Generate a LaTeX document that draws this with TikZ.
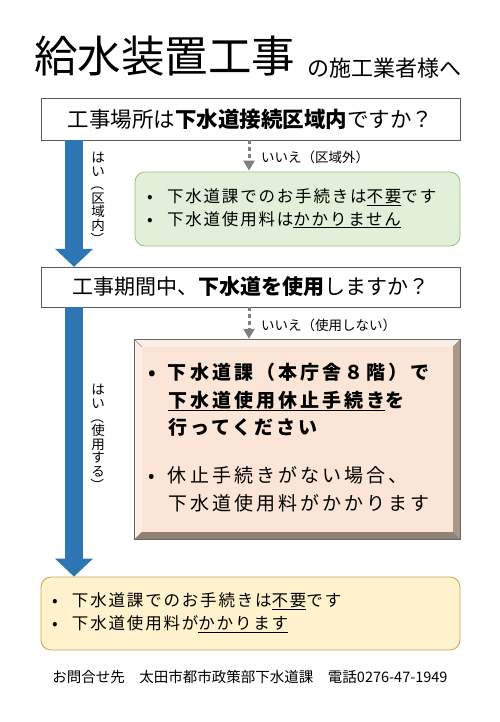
\documentclass[tikz,border=0pt]{standalone}
\usepackage{fontspec}
\setmainfont{Noto Sans CJK JP}
\usepackage{graphicx}
\usetikzlibrary{arrows.meta,positioning}
\definecolor{yesblue}{HTML}{2E75B6}
\definecolor{nogray}{HTML}{7F7F7F}
\definecolor{greenfill}{HTML}{E2F0D9}
\definecolor{greenline}{HTML}{9CBB83}
\definecolor{peachfill}{HTML}{FBE5D6}
\definecolor{bevellight}{HTML}{FCEEE5}
\definecolor{beveldark}{HTML}{A8988C}
\definecolor{beveldarker}{HTML}{928276}
\definecolor{yellowfill}{HTML}{FFF2CC}
\definecolor{yellowline}{HTML}{C4A44A}
\newcommand{\vparen}[1]{\rotatebox[origin=c]{-90}{#1}}

\begin{document}
\begin{tikzpicture}[x=1pt,y=-1pt,
    question/.style={draw=black!65, fill=white, minimum width=419pt, inner sep=0pt},
    yesarrow/.style={line width=18pt, yesblue, -{Triangle[width=37pt,length=18pt]}},
    noarrow/.style={line width=3pt, nogray, dash pattern=on 4pt off 3pt, -{Triangle[width=11pt,length=10pt]}},
    vlabel/.style={align=center, inner sep=0pt, font=\fontsize{13.5}{13.6}\selectfont},
    nolabel/.style={anchor=west, inner sep=0pt, font=\fontsize{13.5}{16}\selectfont},
    answer/.style={rounded corners=10pt, line width=0.8pt, align=left, inner ysep=0pt,
      font=\fontsize{16.5}{23}\selectfont\addfontfeature{LetterSpace=11}},
]
\useasboundingbox (0,0) rectangle (500,722);

% title
\node[anchor=west, inner sep=0pt, font=\fontsize{43.5}{48}\selectfont] (title) at (34,56) {給水装置工事};
\node[anchor=west, inner sep=0pt, font=\fontsize{22}{24}\selectfont] (subtitle) at (307,68) {の施工業者様へ};

% questions
\node[question, minimum height=42pt, font=\fontsize{21.5}{24}\selectfont] (q1) at (250.5,119)
  {工事場所は\textbf{下水道接続区域内}ですか？};
\node[question, minimum height=40pt, font=\fontsize{21}{24}\selectfont] (q2) at (250.5,287)
  {工事期間中、\textbf{下水道を使用}しますか？};

% answers
\node[answer, draw=greenline, fill=greenfill, minimum width=325pt, minimum height=74pt,
  inner xsep=12pt, text width=301pt] (nokubox) at (297.5,209)
  {\begin{tabular}{@{}p{20pt}@{}l@{}}
   • & 下水道課でのお手続きは\underline{不要}です\\
   • & 下水道使用料は\underline{かかりません}
   \end{tabular}};

\node[fill=peachfill, minimum width=311pt, minimum height=185pt, inner xsep=6pt, inner ysep=0pt,
  text width=299pt, align=left, font=\fontsize{19}{27.5}\selectfont\addfontfeature{LetterSpace=16}] (stopbox) at (297.5,439.5)
  {\begin{tabular}{@{}p{20pt}@{}l@{}}
   \textbf{•} & \textbf{下水道課（本庁舎８階）で}\\
     & \textbf{\underline{下水道使用休止手続き}を}\\
     & \textbf{行ってください}\\[20.5pt]
   • & 休止手続きがない場合、\\
     & 下水道使用料がかかります
   \end{tabular}};
% bevel frame
\fill[bevellight] ([shift={(-7,-7)}]stopbox.north west) -- ([shift={(7,-7)}]stopbox.north east)
  -- (stopbox.north east) -- (stopbox.north west) -- cycle;
\fill[bevellight] ([shift={(-7,-7)}]stopbox.north west) -- (stopbox.north west)
  -- (stopbox.south west) -- ([shift={(-7,7)}]stopbox.south west) -- cycle;
\fill[beveldark] ([shift={(7,-7)}]stopbox.north east) -- ([shift={(7,7)}]stopbox.south east)
  -- (stopbox.south east) -- (stopbox.north east) -- cycle;
\fill[beveldarker] ([shift={(-7,7)}]stopbox.south west) -- ([shift={(7,7)}]stopbox.south east)
  -- (stopbox.south east) -- (stopbox.south west) -- cycle;
\draw[black!60, line width=0.8pt] ([shift={(-7,-7)}]stopbox.north west) rectangle ([shift={(7,7)}]stopbox.south east);
\draw[black!45, line width=0.5pt] ([shift={(-7,-7)}]stopbox.north west) -- (stopbox.north west)
  ([shift={(7,-7)}]stopbox.north east) -- (stopbox.north east)
  ([shift={(-7,7)}]stopbox.south west) -- (stopbox.south west)
  ([shift={(7,7)}]stopbox.south east) -- (stopbox.south east);

\node[answer, draw=yellowline, fill=yellowfill, minimum width=419pt, minimum height=73pt,
  inner xsep=11pt, text width=397pt] (usebox) at (250.5,613.5)
  {\begin{tabular}{@{}p{20pt}@{}l@{}}
   • & 下水道課でのお手続きは\underline{不要}です\\
   • & 下水道使用料が\underline{かかります}
   \end{tabular}};

% arrows
\coordinate (yesx) at (74,0);
\coordinate (nox) at (249,0);
\draw[yesarrow] (q1.south -| yesx) -- (q2.north -| yesx);
\draw[yesarrow] (q2.south -| yesx) -- (usebox.north -| yesx);
\draw[noarrow] (q1.south -| nox) -- ([yshift=1pt]nokubox.north -| nox);
\draw[noarrow] (q2.south -| nox) -- ([yshift=8pt]stopbox.north -| nox);

% labels
\node[vlabel] (yes1) at (98,199) {は\\い\\\vparen{（}\\区\\域\\内\\\vparen{）}};
\node[vlabel] (yes2) at (98,438) {は\\い\\\vparen{（}\\使\\用\\す\\る\\\vparen{）}};
\node[nolabel] (no1) at (261,157) {いいえ（区域外）};
\node[nolabel] (no2) at (261,325) {いいえ（使用しない）};

% contact
\node[font=\fontsize{14.5}{16}\selectfont, inner sep=0pt] (contact) at (250,677)
  {お問合せ先　太田市都市政策部下水道課　電話0276-47-1949};
\end{tikzpicture}
\end{document}
